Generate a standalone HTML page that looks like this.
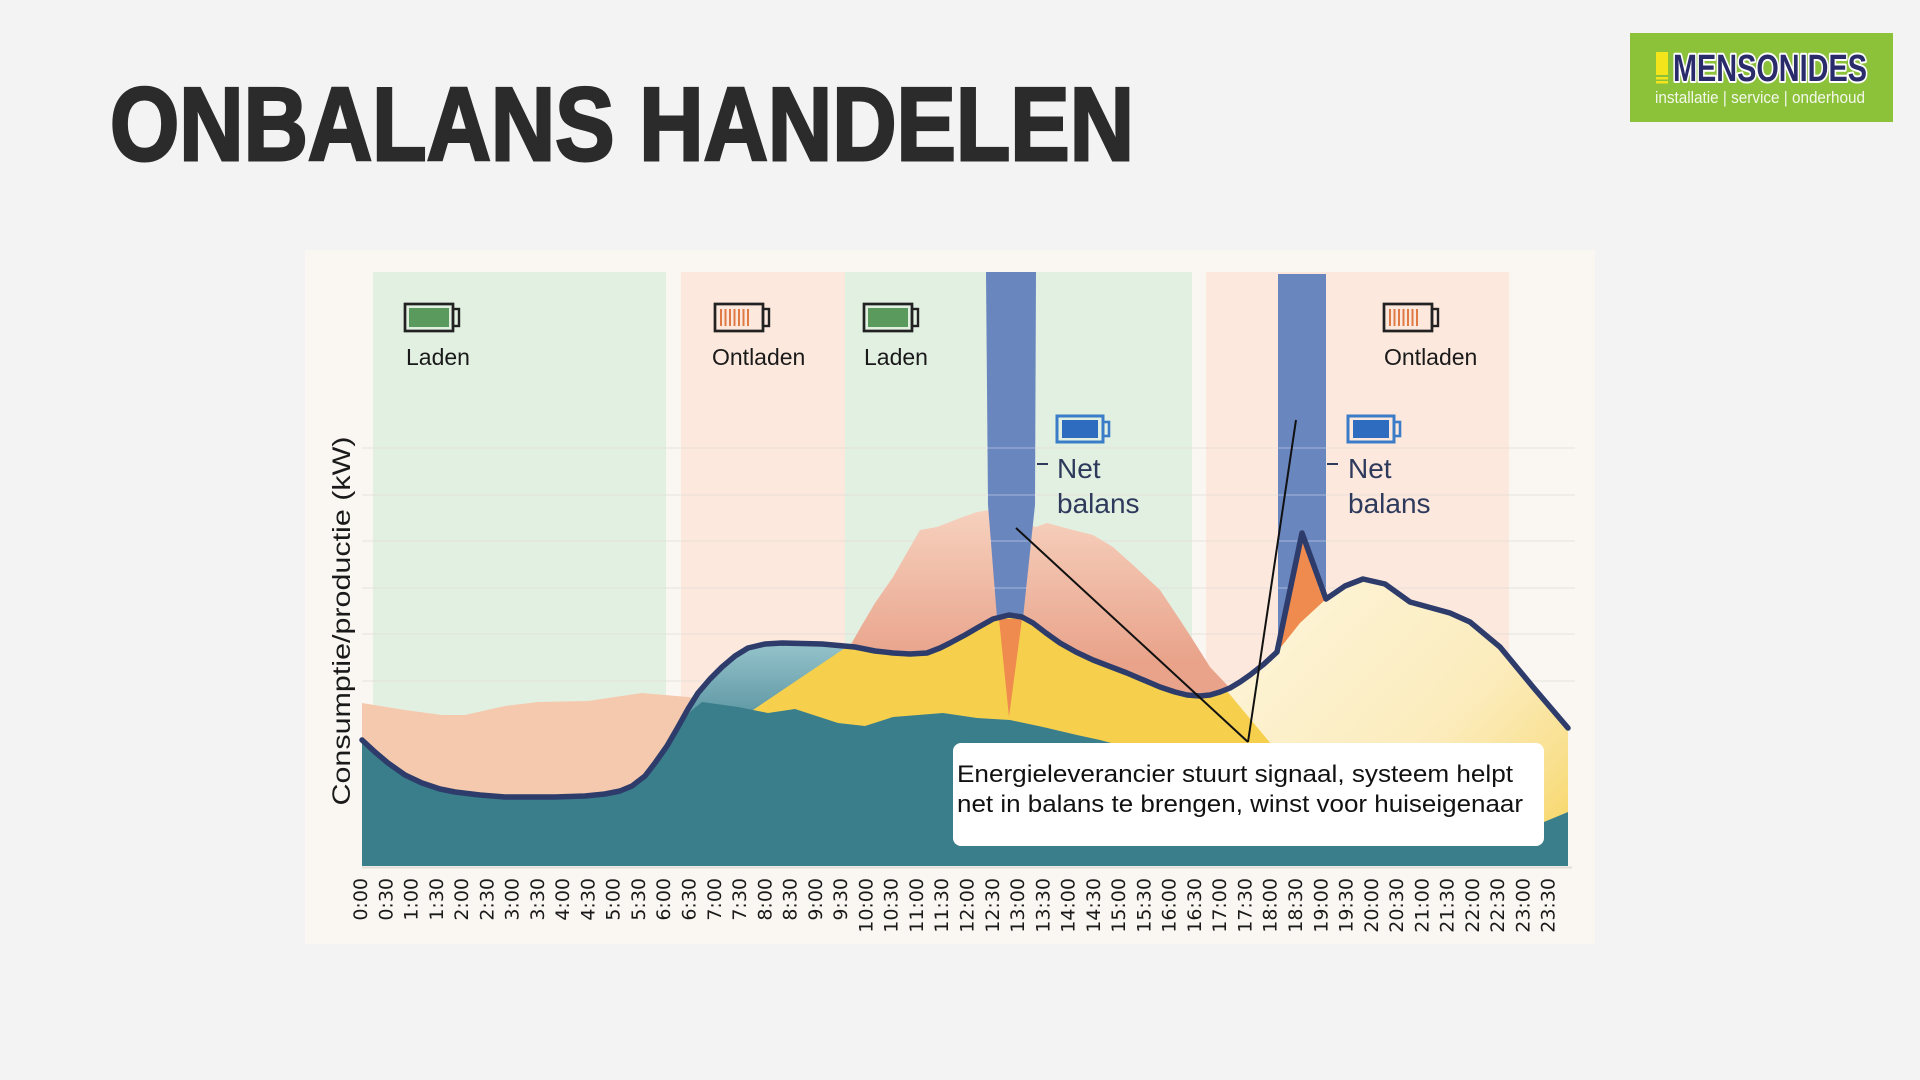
<!DOCTYPE html>
<html>
<head>
<meta charset="utf-8">
<style>
  html,body{margin:0;padding:0;background:#f3f3f3;}
  svg{display:block;}
  .lbl{font-family:"Liberation Sans",sans-serif;fill:#1a1a1a;}
  .tick{font-family:"DejaVu Sans","Liberation Sans",sans-serif;font-size:19px;fill:#1a1a1a;}
</style>
</head>
<body>
<svg width="1920" height="1080" viewBox="0 0 1920 1080" xmlns="http://www.w3.org/2000/svg">
  <defs>
    <linearGradient id="gTealL" x1="0" y1="645" x2="0" y2="715" gradientUnits="userSpaceOnUse">
      <stop offset="0" stop-color="#94c2ca"/>
      <stop offset="1" stop-color="#5e98a4"/>
    </linearGradient>
    <linearGradient id="gSalmon" x1="0" y1="510" x2="0" y2="660" gradientUnits="userSpaceOnUse">
      <stop offset="0" stop-color="#f6d1be"/>
      <stop offset="1" stop-color="#e9a38b"/>
    </linearGradient>
    <linearGradient id="gLY" x1="1290" y1="570" x2="1580" y2="850" gradientUnits="userSpaceOnUse">
      <stop offset="0" stop-color="#fdf4d8"/>
      <stop offset="0.55" stop-color="#fcecbc"/>
      <stop offset="0.8" stop-color="#f9e08f"/>
      <stop offset="1" stop-color="#f6d35a"/>
    </linearGradient>
  </defs>

  <rect x="0" y="0" width="1920" height="1080" fill="#f3f3f3"/>

  <!-- Title -->
  <text x="110" y="160" font-family="Liberation Sans, sans-serif" font-weight="bold" font-size="104" fill="#2b2b2b" stroke="#2b2b2b" stroke-width="3" textLength="1024" lengthAdjust="spacingAndGlyphs">ONBALANS HANDELEN</text>

  <!-- Logo -->
  <rect x="1630" y="33" width="263" height="89" fill="#8cc13a"/>
  <rect x="1656" y="52" width="12" height="23" fill="#f4e41c"/>
  <rect x="1656" y="77" width="12" height="2.5" fill="#f4e41c"/>
  <rect x="1656" y="81" width="12" height="2.5" fill="#f4e41c"/>
  <text x="1673" y="81" font-family="Liberation Sans, sans-serif" font-weight="bold" font-size="38" fill="#2a2b6b" stroke="#ffffff" stroke-width="4" paint-order="stroke" stroke-linejoin="round" textLength="194" lengthAdjust="spacingAndGlyphs">MENSONIDES</text>
  <text x="1655" y="103" font-family="Liberation Sans, sans-serif" font-size="16.5" fill="#f3f8ea" textLength="210" lengthAdjust="spacingAndGlyphs">installatie | service | onderhoud</text>

  <!-- Chart panel -->
  <rect x="305" y="250" width="1290" height="694" fill="#faf7f2"/>

  <!-- Bands -->
  <rect x="373" y="272" width="293" height="594" fill="#e2f0e2"/>
  <rect x="681" y="272" width="164" height="594" fill="#fce8dd"/>
  <rect x="845" y="272" width="347" height="594" fill="#e2f0e2"/>
  <rect x="1206" y="272" width="303" height="594" fill="#fce8dd"/>

  <!-- Gridlines (behind data) -->
  <g stroke="#e4e0d8" stroke-opacity="0.6" stroke-width="1.5">
    <line x1="362" y1="448" x2="1575" y2="448"/>
    <line x1="362" y1="495" x2="1575" y2="495"/>
    <line x1="362" y1="541" x2="1575" y2="541"/>
    <line x1="362" y1="588" x2="1575" y2="588"/>
    <line x1="362" y1="634" x2="1575" y2="634"/>
    <line x1="362" y1="681" x2="1575" y2="681"/>
  </g>

  <!-- Pink (left) area -->
  <polygon fill="#f5c9ad" points="362,703 405,710 442,715 465,715 505,706 538,702 588,701 642,693 688,697 700,699 700,866 362,866"/>

  <!-- Light teal area -->
  <polygon fill="url(#gTealL)" points="688,714 698,693 722,667 748,648 782,643 822,644 850,646 850,866 688,866"/>

  <!-- Salmon area -->
  <polygon fill="url(#gSalmon)" points="850,646 862,625 875,603 893,577 920,530 937,527 960,518 977,512 990,510 1036,527 1047,523 1073,530 1093,535 1113,547 1133,565 1160,590 1180,620 1193,640 1210,667 1227,685 1240,700 850,700"/>

  <!-- Yellow area -->
  <polygon fill="#f6d04d" points="750,712 845,648 855,647 893,653 927,653 950,643 977,628 1009,615 1033,623 1060,643 1093,660 1127,673 1160,687 1187,695 1210,695 1227,691 1272,745 1272,866 750,866"/>

  <!-- Light yellow area -->
  <polygon fill="url(#gLY)" points="1227,691 1230,688 1250,675 1277,652 1300,623 1324,600 1326,599 1345,585 1363,579 1385,584 1410,602 1450,613 1470,622 1500,647 1533,687 1568,728 1568,866 1272,866 1272,745"/>

  <!-- Orange spikes -->
  <polygon fill="#ef8b4e" points="1277,652 1302,533 1326,599 1300,623"/>
  <polygon fill="#ef8b4e" points="999,619 1022,619 1009,717"/>

  <!-- Teal area -->
  <polygon fill="#3b7e8b" points="362,740 375,752 388,763 405,775 422,783 440,789 455,792 505,797 555,797 605,795 632,787 655,763 678,727 690,712 702,702 738,707 768,713 795,709 838,723 865,726 893,717 943,713 977,718 1010,720 1043,727 1077,735 1100,740 1130,748 1544,822 1568,812 1568,866 362,866"/>

  <!-- Blue bars -->
  <polygon fill="#6a86bf" points="986,272 1036,272 1035,505 1023,618 997,618 988,505"/>
  <polygon fill="#6a86bf" points="1278,274 1326,274 1326,600 1302,533 1278,650"/>

  <!-- Gridlines over bars -->
  <g stroke="#ffffff" stroke-opacity="0.28" stroke-width="1.5">
    <line x1="986" y1="448" x2="1036" y2="448"/>
    <line x1="986" y1="495" x2="1036" y2="495"/>
    <line x1="990" y1="541" x2="1033" y2="541"/>
    <line x1="993" y1="588" x2="1027" y2="588"/>
    <line x1="1278" y1="448" x2="1326" y2="448"/>
    <line x1="1278" y1="495" x2="1326" y2="495"/>
    <line x1="1278" y1="541" x2="1299" y2="541"/>
    <line x1="1307" y1="541" x2="1326" y2="541"/>
    <line x1="1278" y1="588" x2="1290" y2="588"/>
    <line x1="1318" y1="588" x2="1326" y2="588"/>
    <line x1="1278" y1="634" x2="1280" y2="634"/>
  </g>

  <!-- Axis baseline -->
  <line x1="362" y1="867.5" x2="1572" y2="867.5" stroke="#e2ded6" stroke-width="2"/>

  <!-- Main line -->
  <polyline fill="none" stroke="#2d3c6b" stroke-width="5.5" stroke-linejoin="round" stroke-linecap="round"
    points="362,740 375,752 388,763 405,775 422,783 440,789 455,792 480,795 505,797 555,797 585,796 605,794 620,791 632,786 645,776 655,763 667,746 678,727 688,709 698,693 710,679 722,667 735,656 748,648 765,644 782,643 822,644 855,647 875,651 893,653 910,654 927,653 940,648 950,643 965,635 977,628 993,619 1009,615 1022,617 1033,623 1046,633 1060,643 1076,652 1093,660 1127,673 1160,687 1175,692 1187,695 1200,696 1210,695 1220,692 1230,688 1240,682 1250,675 1264,664 1277,652 1302,533 1326,599 1345,586 1363,579 1385,584 1410,602 1450,613 1470,622 1500,647 1533,687 1568,728"/>

  <!-- Callout lines -->
  <line x1="1016" y1="528" x2="1248" y2="742" stroke="#111" stroke-width="2"/>
  <line x1="1248" y1="742" x2="1296" y2="420" stroke="#111" stroke-width="2"/>

  <!-- Annotation box -->
  <rect x="953" y="743" width="591" height="103" rx="8" fill="#ffffff"/>
  <text x="957" y="782" font-family="Liberation Sans, sans-serif" font-size="24" fill="#111" textLength="556" lengthAdjust="spacingAndGlyphs">Energieleverancier stuurt signaal, systeem helpt</text>
  <text x="957" y="812" font-family="Liberation Sans, sans-serif" font-size="24" fill="#111" textLength="566" lengthAdjust="spacingAndGlyphs">net in balans te brengen, winst voor huiseigenaar</text>

  <!-- Laden 1 -->
  <rect x="405" y="304" width="48" height="27" fill="none" stroke="#222" stroke-width="2.7"/>
  <rect x="409" y="308" width="40" height="19" fill="#5a9a5c"/>
  <rect x="453" y="309" width="6" height="17" fill="none" stroke="#222" stroke-width="2.4"/>
  <text class="lbl" x="406" y="365" font-size="23">Laden</text>

  <!-- Ontladen 1 -->
  <rect x="715" y="304" width="48" height="27" fill="none" stroke="#222" stroke-width="2.7"/>
  <g stroke="#e07a45" stroke-width="2">
    <line x1="721" y1="309" x2="721" y2="326"/><line x1="725.5" y1="309" x2="725.5" y2="326"/>
    <line x1="730" y1="309" x2="730" y2="326"/><line x1="734.5" y1="309" x2="734.5" y2="326"/>
    <line x1="739" y1="309" x2="739" y2="326"/><line x1="743.5" y1="309" x2="743.5" y2="326"/>
    <line x1="748" y1="309" x2="748" y2="326"/>
  </g>
  <rect x="763" y="309" width="6" height="17" fill="none" stroke="#222" stroke-width="2.4"/>
  <text class="lbl" x="712" y="365" font-size="23">Ontladen</text>

  <!-- Laden 2 -->
  <rect x="864" y="304" width="48" height="27" fill="none" stroke="#222" stroke-width="2.7"/>
  <rect x="868" y="308" width="40" height="19" fill="#5a9a5c"/>
  <rect x="912" y="309" width="6" height="17" fill="none" stroke="#222" stroke-width="2.4"/>
  <text class="lbl" x="864" y="365" font-size="23">Laden</text>

  <!-- Ontladen 2 -->
  <rect x="1384" y="304" width="48" height="27" fill="none" stroke="#222" stroke-width="2.7"/>
  <g stroke="#e07a45" stroke-width="2">
    <line x1="1390" y1="309" x2="1390" y2="326"/><line x1="1394.5" y1="309" x2="1394.5" y2="326"/>
    <line x1="1399" y1="309" x2="1399" y2="326"/><line x1="1403.5" y1="309" x2="1403.5" y2="326"/>
    <line x1="1408" y1="309" x2="1408" y2="326"/><line x1="1412.5" y1="309" x2="1412.5" y2="326"/>
    <line x1="1417" y1="309" x2="1417" y2="326"/>
  </g>
  <rect x="1432" y="309" width="6" height="17" fill="none" stroke="#222" stroke-width="2.4"/>
  <text class="lbl" x="1384" y="365" font-size="23">Ontladen</text>

  <!-- Net balans 1 -->
  <rect x="1057" y="416" width="46" height="26" fill="none" stroke="#3a7cc8" stroke-width="3"/>
  <rect x="1062" y="420" width="36" height="18" fill="#2d6cbf"/>
  <rect x="1103" y="422" width="6" height="14" fill="none" stroke="#3a7cc8" stroke-width="2.6"/>
  <line x1="1037" y1="464" x2="1048" y2="464" stroke="#2e3a5c" stroke-width="2"/>
  <text x="1057" y="478" font-family="Liberation Sans, sans-serif" font-size="28" fill="#2e3a5c">Net</text>
  <text x="1057" y="513" font-family="Liberation Sans, sans-serif" font-size="28" fill="#2e3a5c">balans</text>

  <!-- Net balans 2 -->
  <rect x="1348" y="416" width="46" height="26" fill="none" stroke="#3a7cc8" stroke-width="3"/>
  <rect x="1353" y="420" width="36" height="18" fill="#2d6cbf"/>
  <rect x="1394" y="422" width="6" height="14" fill="none" stroke="#3a7cc8" stroke-width="2.6"/>
  <line x1="1327" y1="464" x2="1338" y2="464" stroke="#2e3a5c" stroke-width="2"/>
  <text x="1348" y="478" font-family="Liberation Sans, sans-serif" font-size="28" fill="#2e3a5c">Net</text>
  <text x="1348" y="513" font-family="Liberation Sans, sans-serif" font-size="28" fill="#2e3a5c">balans</text>

  <!-- Y axis label -->
  <text transform="translate(350,621) rotate(-90)" text-anchor="middle" font-family="Liberation Sans, sans-serif" font-size="25" fill="#1a1a1a" textLength="369" lengthAdjust="spacingAndGlyphs">Consumptie/productie (kW)</text>

  <!-- X tick labels -->
  <g class="tick" text-anchor="end">
    <text transform="translate(367.0,878) rotate(-90)">0:00</text>
    <text transform="translate(392.3,878) rotate(-90)">0:30</text>
    <text transform="translate(417.5,878) rotate(-90)">1:00</text>
    <text transform="translate(442.8,878) rotate(-90)">1:30</text>
    <text transform="translate(468.1,878) rotate(-90)">2:00</text>
    <text transform="translate(493.4,878) rotate(-90)">2:30</text>
    <text transform="translate(518.6,878) rotate(-90)">3:00</text>
    <text transform="translate(543.9,878) rotate(-90)">3:30</text>
    <text transform="translate(569.2,878) rotate(-90)">4:00</text>
    <text transform="translate(594.4,878) rotate(-90)">4:30</text>
    <text transform="translate(619.7,878) rotate(-90)">5:00</text>
    <text transform="translate(645.0,878) rotate(-90)">5:30</text>
    <text transform="translate(670.2,878) rotate(-90)">6:00</text>
    <text transform="translate(695.5,878) rotate(-90)">6:30</text>
    <text transform="translate(720.8,878) rotate(-90)">7:00</text>
    <text transform="translate(746.1,878) rotate(-90)">7:30</text>
    <text transform="translate(771.3,878) rotate(-90)">8:00</text>
    <text transform="translate(796.6,878) rotate(-90)">8:30</text>
    <text transform="translate(821.9,878) rotate(-90)">9:00</text>
    <text transform="translate(847.1,878) rotate(-90)">9:30</text>
    <text transform="translate(872.4,878) rotate(-90)">10:00</text>
    <text transform="translate(897.7,878) rotate(-90)">10:30</text>
    <text transform="translate(922.9,878) rotate(-90)">11:00</text>
    <text transform="translate(948.2,878) rotate(-90)">11:30</text>
    <text transform="translate(973.5,878) rotate(-90)">12:00</text>
    <text transform="translate(998.8,878) rotate(-90)">12:30</text>
    <text transform="translate(1024.0,878) rotate(-90)">13:00</text>
    <text transform="translate(1049.3,878) rotate(-90)">13:30</text>
    <text transform="translate(1074.6,878) rotate(-90)">14:00</text>
    <text transform="translate(1099.8,878) rotate(-90)">14:30</text>
    <text transform="translate(1125.1,878) rotate(-90)">15:00</text>
    <text transform="translate(1150.4,878) rotate(-90)">15:30</text>
    <text transform="translate(1175.6,878) rotate(-90)">16:00</text>
    <text transform="translate(1200.9,878) rotate(-90)">16:30</text>
    <text transform="translate(1226.2,878) rotate(-90)">17:00</text>
    <text transform="translate(1251.5,878) rotate(-90)">17:30</text>
    <text transform="translate(1276.7,878) rotate(-90)">18:00</text>
    <text transform="translate(1302.0,878) rotate(-90)">18:30</text>
    <text transform="translate(1327.3,878) rotate(-90)">19:00</text>
    <text transform="translate(1352.5,878) rotate(-90)">19:30</text>
    <text transform="translate(1377.8,878) rotate(-90)">20:00</text>
    <text transform="translate(1403.1,878) rotate(-90)">20:30</text>
    <text transform="translate(1428.3,878) rotate(-90)">21:00</text>
    <text transform="translate(1453.6,878) rotate(-90)">21:30</text>
    <text transform="translate(1478.9,878) rotate(-90)">22:00</text>
    <text transform="translate(1504.2,878) rotate(-90)">22:30</text>
    <text transform="translate(1529.4,878) rotate(-90)">23:00</text>
    <text transform="translate(1554.7,878) rotate(-90)">23:30</text>
  </g>
</svg>
</body>
</html>
